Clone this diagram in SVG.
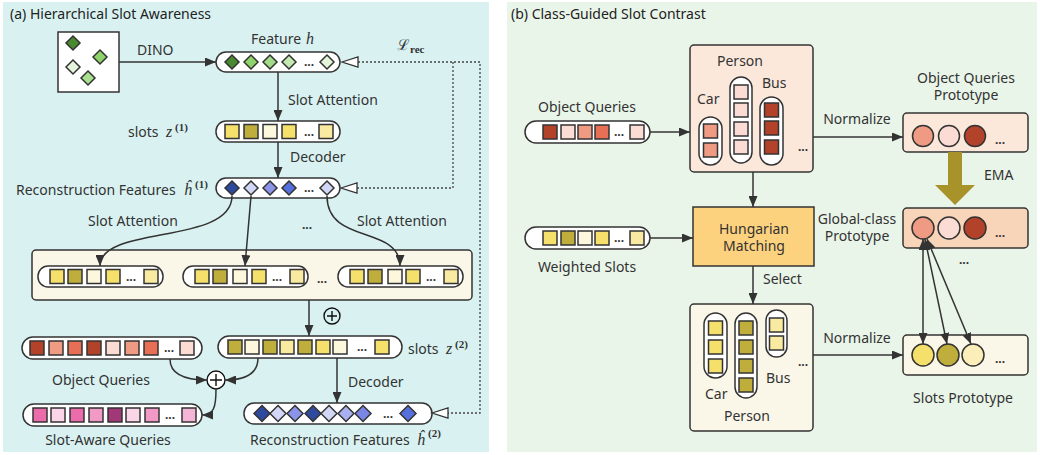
<svg xmlns="http://www.w3.org/2000/svg" width="1040" height="455" viewBox="0 0 1040 455">
<defs>
<style>
.t{font-family:"Noto Sans","Open Sans",sans-serif;font-size:14px;fill:#333}
.tc{font-family:"Noto Sans","Open Sans",sans-serif;font-size:14px;fill:#333;text-anchor:middle}
.ttl{font-family:"Noto Sans","Open Sans",sans-serif;font-size:14px;fill:#222}
.m{font-family:"Liberation Serif","DejaVu Serif",serif;font-style:italic;font-size:16px;fill:#333}
.sup{font-family:"Liberation Serif","DejaVu Serif",serif;font-weight:bold;font-size:11px;fill:#333}
.bar{fill:#fff;stroke:#333;stroke-width:1.5}
.k{stroke:#333;stroke-width:1.5}
.c{fill:none;stroke:#333;stroke-width:1.5}
.d{fill:none;stroke:#444;stroke-width:1.3;stroke-dasharray:2 2}
.dots{font-family:"Noto Sans",sans-serif;font-size:12px;font-weight:bold;fill:#333;text-anchor:middle}
.box{stroke:#333;stroke-width:1.5}
.open{fill:#fff;stroke:#333;stroke-width:1.3}
</style>
<polygon id="dm" points="0,-7 7,0 0,7 -7,0"/>
<polygon id="dm8" points="0,-8 8,0 0,8 -8,0"/>
<rect id="sq" x="-7" y="-7" width="14" height="14"/>
<marker id="ah" markerWidth="11" markerHeight="9" refX="11" refY="4.5" orient="auto-start-reverse" markerUnits="userSpaceOnUse"><path d="M0,0 L11,4.5 L0,9 z" fill="#333"/></marker>
</defs>

<!-- panels -->
<rect x="3" y="2" width="486" height="450" fill="#d9f2f1"/>
<rect x="507" y="2" width="530" height="450" fill="#eaf5e9"/>
<text class="ttl" x="10" y="19">(a) Hierarchical Slot Awareness</text>
<text class="ttl" x="511" y="19">(b) Class-Guided Slot Contrast</text>

<!-- ===== Panel (a) ===== -->
<g id="image">
<rect x="58" y="32" width="61" height="60" fill="#fff" class="box"/>
<use href="#dm" x="73" y="43" fill="#4a8a2f" class="k"/>
<use href="#dm" x="100" y="57" fill="#8fd46b" class="k"/>
<use href="#dm" x="73" y="67" fill="#e5f5dc" class="k"/>
<use href="#dm" x="88" y="78" fill="#a9e08e" class="k"/>
</g>
<text class="t" x="137" y="55">DINO</text>

<g id="feature-h">
<rect x="216" y="52" width="124" height="20" rx="10" class="bar"/>
<use href="#dm" x="232" y="62" fill="#4a8a2f" class="k"/>
<use href="#dm" x="251" y="62" fill="#8fd46b" class="k"/>
<use href="#dm" x="270" y="62" fill="#a2dc88" class="k"/>
<use href="#dm" x="289" y="62" fill="#c4e9b2" class="k"/>
<text class="dots" x="309" y="66">...</text>
<use href="#dm" x="327" y="62" fill="#e5f5dc" class="k"/>
<text class="t" x="251" y="44">Feature</text>
<text class="m" x="306" y="44">h</text>
</g>

<g id="loss-label">
<text x="397" y="50" font-family="DejaVu Serif,serif" font-size="15" fill="#333">ℒ</text>
<text class="sup" x="410" y="53">rec</text>
</g>

<g id="slots-z1">
<rect x="216" y="121" width="124" height="21" rx="10" class="bar"/>
<use href="#sq" x="232" y="131.5" fill="#f5e06c" class="k"/>
<use href="#sq" x="251" y="131.5" fill="#bfae3b" class="k"/>
<use href="#sq" x="270" y="131.5" fill="#fdf7dd" class="k"/>
<use href="#sq" x="289" y="131.5" fill="#f5e06c" class="k"/>
<text class="dots" x="309" y="135.5">...</text>
<use href="#sq" x="326" y="131.5" fill="#f8eaa0" class="k"/>
<text class="t" x="128" y="137">slots</text>
<text class="m" x="166" y="137">z</text>
<text class="sup" x="175" y="131">(1)</text>
</g>
<text class="t" x="288" y="105">Slot Attention</text>
<text class="t" x="290" y="162">Decoder</text>

<g id="recon-h1">
<rect x="216" y="178" width="124" height="20" rx="10" class="bar"/>
<use href="#dm" x="232" y="188" fill="#2e4a9f" class="k"/>
<use href="#dm" x="251" y="188" fill="#d3d7f7" class="k"/>
<use href="#dm" x="270" y="188" fill="#8a95ea" class="k"/>
<use href="#dm" x="289" y="188" fill="#5570dd" class="k"/>
<text class="dots" x="309" y="192">...</text>
<use href="#dm" x="327" y="188" fill="#d3d7f7" class="k"/>
<text class="t" x="16" y="195">Reconstruction Features</text>
<text class="m" x="184" y="195">ĥ</text>
<text class="sup" x="195" y="188">(1)</text>
</g>

<text class="t" x="88" y="226">Slot Attention</text>
<text class="t" x="357" y="226">Slot Attention</text>
<text class="dots" x="307" y="229">...</text>

<g id="attention-slots">
<rect x="32" y="250" width="440" height="50" rx="4" fill="#fbf7e8" class="box"/>
<rect x="38" y="266" width="125" height="21" rx="10" class="bar"/>
<use href="#sq" x="57" y="276.5" fill="#f5e06c" class="k"/>
<use href="#sq" x="75" y="276.5" fill="#bfae3b" class="k"/>
<use href="#sq" x="94" y="276.5" fill="#fdf7dd" class="k"/>
<use href="#sq" x="113" y="276.5" fill="#f5e06c" class="k"/>
<text class="dots" x="131" y="280.5">...</text>
<use href="#sq" x="151" y="276.5" fill="#f8eaa0" class="k"/>
<rect x="183" y="266" width="125" height="21" rx="10" class="bar"/>
<use href="#sq" x="202" y="276.5" fill="#f5e06c" class="k"/>
<use href="#sq" x="220" y="276.5" fill="#bfae3b" class="k"/>
<use href="#sq" x="240" y="276.5" fill="#fdf7dd" class="k"/>
<use href="#sq" x="259" y="276.5" fill="#f5e06c" class="k"/>
<text class="dots" x="277" y="280.5">...</text>
<use href="#sq" x="297" y="276.5" fill="#f8eaa0" class="k"/>
<text class="dots" x="322" y="283">...</text>
<rect x="338" y="266" width="125" height="21" rx="10" class="bar"/>
<use href="#sq" x="357" y="276.5" fill="#f5e06c" class="k"/>
<use href="#sq" x="375" y="276.5" fill="#bfae3b" class="k"/>
<use href="#sq" x="395" y="276.5" fill="#fdf7dd" class="k"/>
<use href="#sq" x="413" y="276.5" fill="#f5e06c" class="k"/>
<text class="dots" x="431" y="280.5">...</text>
<use href="#sq" x="451" y="276.5" fill="#f8eaa0" class="k"/>
</g>

<g id="plus-1">
<circle cx="332" cy="316" r="8" fill="none" stroke="#111" stroke-width="1.4"/>
<path d="M327,316 H337 M332,311 V321" stroke="#111" stroke-width="1.4"/>
</g>

<g id="slots-z2">
<rect x="218" y="336" width="184" height="22" rx="11" class="bar"/>
<use href="#sq" x="235" y="347" fill="#bfae3b" class="k"/>
<use href="#sq" x="252" y="347" fill="#fdf7dd" class="k"/>
<use href="#sq" x="270" y="347" fill="#bfae3b" class="k"/>
<use href="#sq" x="287" y="347" fill="#f8eaa0" class="k"/>
<use href="#sq" x="305" y="347" fill="#bfae3b" class="k"/>
<use href="#sq" x="323" y="347" fill="#f5e06c" class="k"/>
<use href="#sq" x="340" y="347" fill="#fdf7dd" class="k"/>
<text class="dots" x="362" y="351">...</text>
<use href="#sq" x="382" y="347" fill="#f5e06c" class="k"/>
<text class="t" x="408" y="354">slots</text>
<text class="m" x="446" y="354">z</text>
<text class="sup" x="455" y="348">(2)</text>
</g>
<text class="t" x="348" y="387">Decoder</text>

<g id="recon-h2">
<rect x="244" y="403" width="188" height="21" rx="10" class="bar"/>
<use href="#dm8" x="262" y="413.5" fill="#2e4a9f" class="k"/>
<use href="#dm8" x="278" y="413.5" fill="#d3d7f7" class="k"/>
<use href="#dm8" x="295" y="413.5" fill="#8a95ea" class="k"/>
<use href="#dm8" x="313" y="413.5" fill="#2e4a9f" class="k"/>
<use href="#dm8" x="329" y="413.5" fill="#d3d7f7" class="k"/>
<use href="#dm8" x="346" y="413.5" fill="#a9b0f0" class="k"/>
<use href="#dm8" x="363" y="413.5" fill="#7a86e6" class="k"/>
<text class="dots" x="388" y="417.5">...</text>
<use href="#dm8" x="408" y="413.5" fill="#5570dd" class="k"/>
<text class="t" x="250" y="445">Reconstruction Features</text>
<text class="m" x="417" y="445">ĥ</text>
<text class="sup" x="428" y="437">(2)</text>
</g>

<g id="object-queries-a">
<rect x="22" y="337" width="180" height="22" rx="11" class="bar"/>
<use href="#sq" x="37" y="348" fill="#b3422a" class="k"/>
<use href="#sq" x="56" y="348" fill="#ef9a82" class="k"/>
<use href="#sq" x="75" y="348" fill="#e66f55" class="k"/>
<use href="#sq" x="94" y="348" fill="#b3422a" class="k"/>
<use href="#sq" x="113" y="348" fill="#fbdcd5" class="k"/>
<use href="#sq" x="132" y="348" fill="#ef9a82" class="k"/>
<use href="#sq" x="151" y="348" fill="#e66f55" class="k"/>
<text class="dots" x="169" y="352">...</text>
<use href="#sq" x="187" y="348" fill="#fbdcd5" class="k"/>
<text class="tc" x="101" y="385">Object Queries</text>
</g>

<g id="plus-2">
<circle cx="216" cy="380" r="9" fill="#fff" stroke="#111" stroke-width="1.4"/>
<path d="M210,380 H222 M216,374 V386" stroke="#111" stroke-width="1.4"/>
</g>

<g id="slot-aware-queries">
<rect x="23" y="404" width="179" height="22" rx="11" class="bar"/>
<use href="#sq" x="40" y="415" fill="#ea6cab" class="k"/>
<use href="#sq" x="58" y="415" fill="#f9d5e7" class="k"/>
<use href="#sq" x="77" y="415" fill="#ea6cab" class="k"/>
<use href="#sq" x="96" y="415" fill="#f19ac6" class="k"/>
<use href="#sq" x="115" y="415" fill="#a23877" class="k"/>
<use href="#sq" x="133" y="415" fill="#f9d5e7" class="k"/>
<use href="#sq" x="152" y="415" fill="#f19ac6" class="k"/>
<text class="dots" x="170" y="419">...</text>
<use href="#sq" x="189" y="415" fill="#f4b5d6" class="k"/>
<text class="tc" x="108" y="445">Slot-Aware Queries</text>
</g>

<!-- ===== Panel (b) ===== -->
<g id="object-queries-b">
<rect x="525" y="121" width="125" height="22" rx="11" class="bar"/>
<use href="#sq" x="550" y="132" fill="#b3422a" class="k"/>
<use href="#sq" x="568" y="132" fill="#fbdcd5" class="k"/>
<use href="#sq" x="585" y="132" fill="#ef9a82" class="k"/>
<use href="#sq" x="602" y="132" fill="#e66f55" class="k"/>
<text class="dots" x="619" y="136">...</text>
<use href="#sq" x="637" y="132" fill="#fbdcd5" class="k"/>
<text class="tc" x="587" y="112">Object Queries</text>
</g>

<g id="query-classes">
<rect x="690" y="45" width="123" height="127" rx="4" fill="#fbe8db" class="box"/>
<text class="t" x="717" y="66">Person</text>
<text class="t" x="697" y="104">Car</text>
<text class="t" x="762" y="88">Bus</text>
<rect x="699" y="117" width="23" height="48" rx="11.5" class="bar"/>
<use href="#sq" x="710.5" y="131" fill="#ef9a82" class="k"/>
<use href="#sq" x="710.5" y="150" fill="#ef9a82" class="k"/>
<rect x="730" y="77" width="22" height="86" rx="11" class="bar"/>
<use href="#sq" x="741" y="92" fill="#fbdcd5" class="k"/>
<use href="#sq" x="741" y="110" fill="#fbdcd5" class="k"/>
<use href="#sq" x="741" y="129" fill="#fbdcd5" class="k"/>
<use href="#sq" x="741" y="147" fill="#fbdcd5" class="k"/>
<rect x="760" y="97" width="23" height="68" rx="11.5" class="bar"/>
<use href="#sq" x="771.5" y="110" fill="#b3422a" class="k"/>
<use href="#sq" x="771.5" y="128" fill="#b3422a" class="k"/>
<use href="#sq" x="771.5" y="147" fill="#b3422a" class="k"/>
<text class="dots" x="803" y="151">...</text>
</g>

<text class="tc" x="857" y="124">Normalize</text>

<g id="object-queries-prototype">
<rect x="903" y="113" width="125" height="39" rx="4" fill="#fbe8db" class="box"/>
<circle cx="923" cy="136" r="10.5" fill="#ef9a82" class="k"/>
<circle cx="949" cy="136" r="10.5" fill="#fbdcd5" class="k"/>
<circle cx="975" cy="136" r="10.5" fill="#b3422a" class="k"/>
<text class="dots" x="1000" y="144">...</text>
<text class="tc" x="966" y="83">Object Queries</text>
<text class="tc" x="966" y="100">Prototype</text>
</g>

<g id="ema">
<polygon points="948,152 962,152 962,185 975,185 955,205 935,185 948,185" fill="#a8922a"/>
<text class="t" x="984" y="180">EMA</text>
</g>

<g id="global-class-prototype">
<rect x="903" y="208" width="125" height="40" rx="4" fill="#f8d4b9" class="box"/>
<circle cx="923" cy="228" r="11" fill="#ef9a82" class="k"/>
<circle cx="949" cy="228" r="11" fill="#fbdcd5" class="k"/>
<circle cx="975" cy="228" r="11" fill="#b3422a" class="k"/>
<text class="dots" x="1000" y="237">...</text>
<text class="tc" x="857" y="224">Global-class</text>
<text class="tc" x="857" y="241">Prototype</text>
<text class="dots" x="964" y="264">...</text>
</g>

<g id="weighted-slots">
<rect x="525" y="227" width="125" height="22" rx="11" class="bar"/>
<use href="#sq" x="550" y="238" fill="#f5e06c" class="k"/>
<use href="#sq" x="568" y="238" fill="#bfae3b" class="k"/>
<use href="#sq" x="585" y="238" fill="#fdf7dd" class="k"/>
<use href="#sq" x="602" y="238" fill="#f5e06c" class="k"/>
<text class="dots" x="619" y="242">...</text>
<use href="#sq" x="637" y="238" fill="#f8eaa0" class="k"/>
<text class="tc" x="587" y="272">Weighted Slots</text>
</g>

<g id="hungarian-matching">
<rect x="693" y="207" width="121" height="59" fill="#fdd27e" class="box"/>
<text class="tc" x="754" y="234">Hungarian</text>
<text class="tc" x="754" y="251">Matching</text>
</g>
<text class="t" x="763" y="284">Select</text>

<g id="slot-classes">
<rect x="690" y="304" width="123" height="127" rx="4" fill="#fbf7e8" class="box"/>
<rect x="704" y="313" width="23" height="65" rx="11.5" class="bar"/>
<use href="#sq" x="715.5" y="328" fill="#f5e06c" class="k"/>
<use href="#sq" x="715.5" y="347" fill="#f5e06c" class="k"/>
<use href="#sq" x="715.5" y="366" fill="#f5e06c" class="k"/>
<rect x="735" y="313" width="22" height="85" rx="11" class="bar"/>
<use href="#sq" x="746" y="328" fill="#bfae3b" class="k"/>
<use href="#sq" x="746" y="347" fill="#bfae3b" class="k"/>
<use href="#sq" x="746" y="366" fill="#bfae3b" class="k"/>
<use href="#sq" x="746" y="385" fill="#bfae3b" class="k"/>
<rect x="766" y="310" width="21" height="47" rx="10.5" class="bar"/>
<use href="#sq" x="776.5" y="325" fill="#f8eaa0" class="k"/>
<use href="#sq" x="776.5" y="343" fill="#f8eaa0" class="k"/>
<text class="dots" x="803" y="366">...</text>
<text class="t" x="705" y="399">Car</text>
<text class="t" x="766" y="383">Bus</text>
<text class="t" x="724" y="421">Person</text>
</g>

<text class="tc" x="857" y="343">Normalize</text>

<g id="slots-prototype">
<rect x="903" y="335" width="125" height="40" rx="4" fill="#fbf7e8" class="box"/>
<circle cx="923" cy="355" r="11" fill="#f5e06c" class="k"/>
<circle cx="948" cy="355" r="11" fill="#bfae3b" class="k"/>
<circle cx="973" cy="355" r="11" fill="#fbeeb8" class="k"/>
<text class="dots" x="1000" y="363">...</text>
<text class="tc" x="963" y="403">Slots Prototype</text>
</g>

<!-- ===== connectors ===== -->
<g id="connectors">
<path class="c" d="M119,62 H216" marker-end="url(#ah)"/>
<path class="c" d="M278,72 V121" marker-end="url(#ah)"/>
<path class="c" d="M278,142 V178" marker-end="url(#ah)"/>
<path class="c" d="M232,196 C232,245 100,225 100,266" marker-end="url(#ah)"/>
<path class="c" d="M251,196 L245,266" marker-end="url(#ah)"/>
<path class="c" d="M327,196 C327,245 400,225 400,266" marker-end="url(#ah)"/>
<path class="c" d="M309,300 V336" marker-end="url(#ah)"/>
<path class="c" d="M337,358 V403" marker-end="url(#ah)"/>
<path class="c" d="M170,359 C170,376 188,380 207,380" marker-end="url(#ah)"/>
<path class="c" d="M258,358 C258,376 242,380 225,380" marker-end="url(#ah)"/>
<path class="c" d="M216,389 C216,407 214,415 202,415" marker-end="url(#ah)"/>
<!-- dotted reconstruction loss -->
<path class="d" d="M358,62 H480 V413 H448"/>
<path class="d" d="M453,62 V188 H357"/>
<polygon class="open" points="342,62 358,57 358,67"/>
<polygon class="open" points="341,188 357,183 357,193"/>
<polygon class="open" points="432,413 448,408 448,418"/>
<!-- panel b -->
<path class="c" d="M650,132 H690" marker-end="url(#ah)"/>
<path class="c" d="M753,172 V207" marker-end="url(#ah)"/>
<path class="c" d="M650,238 H693" marker-end="url(#ah)"/>
<path class="c" d="M753,266 V304" marker-end="url(#ah)"/>
<path class="c" d="M813,137 H903" marker-end="url(#ah)"/>
<path class="c" d="M813,355 H903" marker-end="url(#ah)"/>
<path class="c" d="M923,239 L923,344" marker-start="url(#ah)" marker-end="url(#ah)"/>
<path class="c" d="M925,239 L947,344" marker-start="url(#ah)" marker-end="url(#ah)"/>
<path class="c" d="M927,239 L971,344" marker-start="url(#ah)" marker-end="url(#ah)"/>
</g>
</svg>
